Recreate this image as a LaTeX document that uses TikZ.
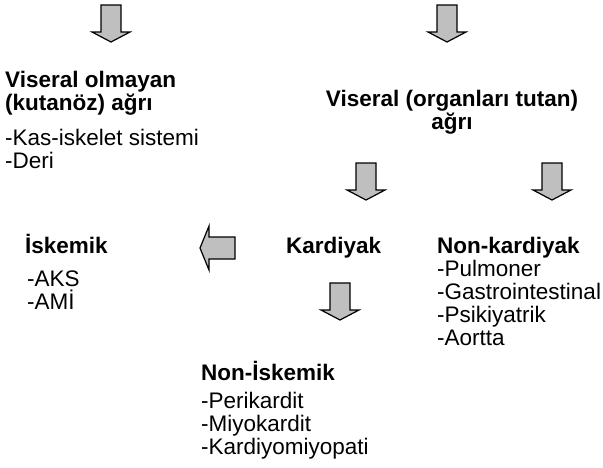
\documentclass[tikz,border=0pt]{standalone}
\usepackage{fontspec}
\setmainfont{Liberation Sans}
\usepackage{tikz}

\begin{document}
\begin{tikzpicture}[x=1pt,y=-1pt,
    head/.style={font=\fontsize{22.5}{23}\selectfont\bfseries,inner sep=0pt,anchor=base west,align=left},
    items/.style={font=\fontsize{22.5}{23}\selectfont,inner sep=0pt,anchor=base west,align=left},
    blockarr/.style={draw=black,fill=gray!50,line width=1.2pt,line join=miter},
    downarr/.pic={\draw[blockarr] (-10,0) -- (10,0) -- (10,27) -- (19,27) -- (0,37) -- (-19,27) -- (-10,27) -- cycle;},
    leftarr/.pic={\draw[blockarr] (0,0) -- (9,-22) -- (9,-11) -- (35,-11) -- (35,11) -- (9,11) -- (9,22) -- cycle;}]
                \useasboundingbox (0,0) rectangle (603,467);
                % multi-line nodes sit on the baseline of their last line
                \pic at (111,5) {downarr};
                \pic at (447,5) {downarr};

                \node[head] (kutan) at (5,110) {Viseral olmayan\\(kutanöz) ağrı};
                \node[items] (kutanlist) at (5,168) {-Kas-iskelet sistemi\\-Deri};

                \node[head,anchor=base,align=center] (visc) at (452,129) {Viseral (organları tutan)\\ağrı};

                \pic at (366,163) {downarr};
                \pic at (552,163) {downarr};

                \node[head] (isk) at (25,253) {İskemik};
                \node[items] (isklist) at (27,309) {-AKS\\-AMİ};
                \pic at (200,248) {leftarr};
                \node[head] (kard) at (286,253) {Kardiyak};
                \node[head] (nonkard) at (437,253) {Non-kardiyak};
                \node[items] (nonkardlist) at (437,345) {-Pulmoner\\-Gastrointestinal\\-Psikiyatrik\\-Aortta};

                \pic at (340,283) {downarr};
                \node[head] (nonisk) at (201,380) {Non-İskemik};
                \node[items] (nonisklist) at (201,454) {-Perikardit\\-Miyokardit\\-Kardiyomiyopati};
            \end{tikzpicture}
\end{document}
